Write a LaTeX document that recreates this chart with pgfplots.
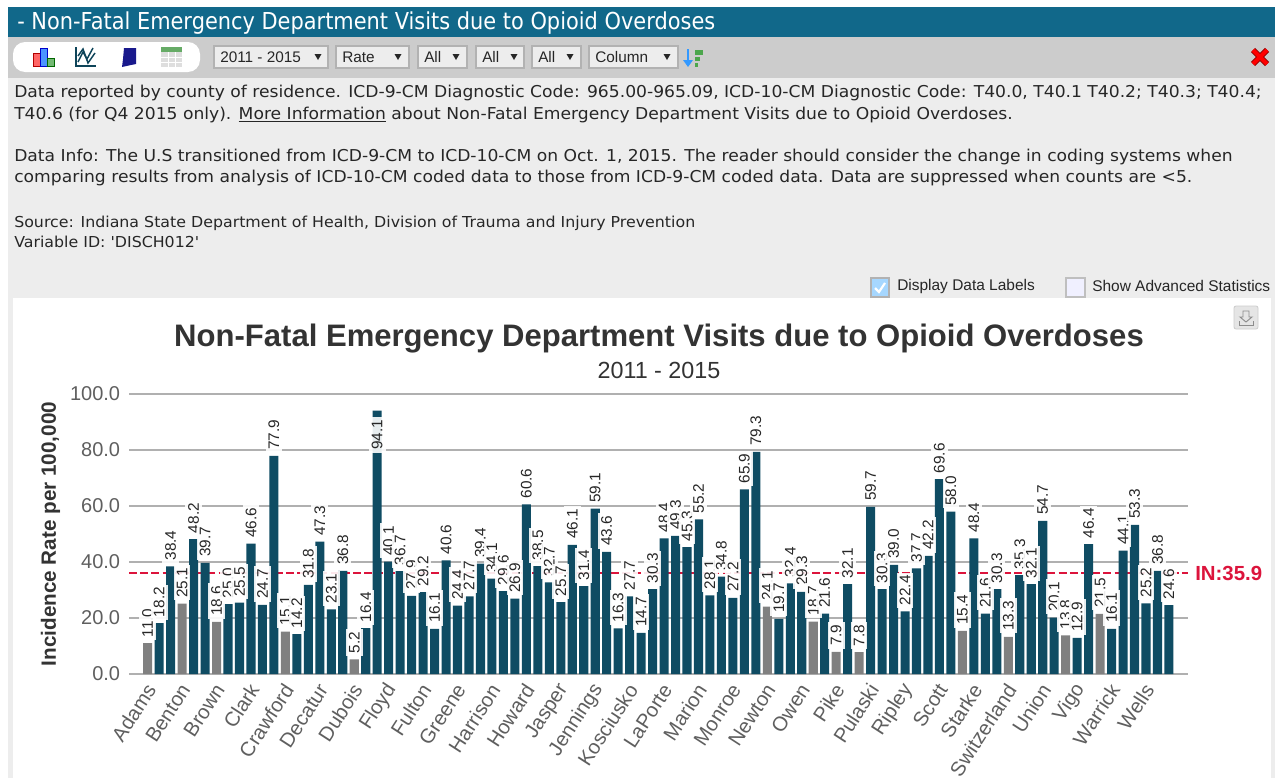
\documentclass[border=0pt]{standalone}
\usepackage{pgfplots}
\usepackage{pgfplotstable}
\usepackage{fontspec}
\pgfplotsset{compat=1.18}
\setmainfont{Liberation Sans}
\newfontfamily\dv[FakeStretch=0.896]{DejaVu Sans}
\newfontfamily\dvb[FakeStretch=1.05]{DejaVu Sans}
\newcommand{\fs}[1]{\fontsize{#1pt}{#1pt}\selectfont}
\definecolor{hdr}{HTML}{11688A}
\definecolor{barteal}{HTML}{0F4C63}
\definecolor{nodata}{HTML}{808080}
\definecolor{indred}{HTML}{DC143C}
\definecolor{ttl}{HTML}{333333}
\definecolor{tck}{HTML}{5F5F5F}
\definecolor{grd}{HTML}{B0B0B0}
\pgfplotstableread{
idx teal grey val pos
0 nan 11.0 11.0 11.0
1 18.2 nan 18.2 18.2
2 38.4 nan 38.4 38.4
3 nan 25.1 25.1 25.1
4 48.2 nan 48.2 48.2
5 39.7 nan 39.7 39.7
6 nan 18.6 18.6 18.6
7 25.0 nan 25.0 25.0
8 25.5 nan 25.5 25.5
9 46.6 nan 46.6 46.6
10 24.7 nan 24.7 24.7
11 77.9 nan 77.9 77.9
12 nan 15.1 15.1 15.1
13 14.2 nan 14.2 14.2
14 31.8 nan 31.8 31.8
15 47.3 nan 47.3 47.3
16 23.1 nan 23.1 23.1
17 36.8 nan 36.8 36.8
18 nan 5.2 5.2 5.2
19 16.4 nan 16.4 16.4
20 94.1 nan 94.1 77.9
21 40.1 nan 40.1 40.1
22 36.7 nan 36.7 36.7
23 27.9 nan 27.9 27.9
24 29.2 nan 29.2 29.2
25 16.1 nan 16.1 16.1
26 40.6 nan 40.6 40.6
27 24.4 nan 24.4 24.4
28 27.7 nan 27.7 27.7
29 39.4 nan 39.4 39.4
30 34.1 nan 34.1 34.1
31 29.6 nan 29.6 29.6
32 26.9 nan 26.9 26.9
33 60.6 nan 60.6 60.6
34 38.5 nan 38.5 38.5
35 32.7 nan 32.7 32.7
36 25.7 nan 25.7 25.7
37 46.1 nan 46.1 46.1
38 31.4 nan 31.4 31.4
39 59.1 nan 59.1 59.1
40 43.6 nan 43.6 43.6
41 16.3 nan 16.3 16.3
42 27.7 nan 27.7 27.7
43 14.7 nan 14.7 14.7
44 30.3 nan 30.3 30.3
45 48.4 nan 48.4 48.4
46 49.3 nan 49.3 49.3
47 45.3 nan 45.3 45.3
48 55.2 nan 55.2 55.2
49 28.1 nan 28.1 28.1
50 34.8 nan 34.8 34.8
51 27.2 nan 27.2 27.2
52 65.9 nan 65.9 65.9
53 79.3 nan 79.3 79.3
54 nan 24.1 24.1 24.1
55 19.7 nan 19.7 19.7
56 32.4 nan 32.4 32.4
57 29.3 nan 29.3 29.3
58 nan 18.7 18.7 18.7
59 21.6 nan 21.6 21.6
60 nan 7.9 7.9 7.9
61 32.1 nan 32.1 32.1
62 nan 7.8 7.8 7.8
63 59.7 nan 59.7 59.7
64 30.3 nan 30.3 30.3
65 39.0 nan 39.0 39.0
66 22.4 nan 22.4 22.4
67 37.7 nan 37.7 37.7
68 42.2 nan 42.2 42.2
69 69.6 nan 69.6 69.6
70 58.0 nan 58.0 58.0
71 nan 15.4 15.4 15.4
72 48.4 nan 48.4 48.4
73 21.6 nan 21.6 21.6
74 30.3 nan 30.3 30.3
75 nan 13.3 13.3 13.3
76 35.3 nan 35.3 35.3
77 32.1 nan 32.1 32.1
78 54.7 nan 54.7 54.7
79 20.1 nan 20.1 20.1
80 nan 13.8 13.8 13.8
81 12.9 nan 12.9 12.9
82 46.4 nan 46.4 46.4
83 nan 21.5 21.5 21.5
84 16.1 nan 16.1 16.1
85 44.1 nan 44.1 44.1
86 53.3 nan 53.3 53.3
87 25.2 nan 25.2 25.2
88 36.8 nan 36.8 36.8
89 24.6 nan 24.6 24.6
}\rates
\pgfplotstableread{
x y
-1.63 35.9
90.66 35.9
}\stateline
\begin{document}
\begin{tikzpicture}[x=0.75pt,y=-0.75pt]
\useasboundingbox (0,0) rectangle (1275,778);
\fill[white] (0,0) rectangle (1275,778);
% panels
\fill[hdr] (8,7) rectangle (1275,37);
\fill[black!20] (8,37) rectangle (1275,78);
\fill[black!7] (8,78) rectangle (1275,778);
\fill[white] (13,298) rectangle (1271,778);
\node[anchor=west,text=white,inner sep=0pt] at (17,23) {\dv\fs{17.5}- Non-Fatal Emergency Department Visits due to Opioid Overdoses};
% toolbar pill
\fill[white,rounded corners=9pt] (13,42) rectangle (200,72);
% bar icon
\fill[red!60,draw=red!70!black,line width=.4pt] (33,53) rectangle (40,66);
\fill[blue!60!cyan!70,draw=blue!80!black,line width=.4pt] (40,48) rectangle (47,66);
\fill[green!50!black!55,draw=green!40!black,line width=.4pt] (47,58) rectangle (54,66);
% line icon
\draw[barteal!90!black,line width=1pt] (76,47) -- (76,66) -- (96,66);
\draw[barteal!90!black,line width=1.1pt] (78,62) -- (83,52) -- (87,59) -- (93,48);
\draw[barteal!90!black,line width=1.1pt] (78,56) -- (83,49) -- (88,63) -- (95,53);
% indiana icon
\fill[blue!50!black!90] (124,48) -- (136,48) -- (136,64) -- (131,65) -- (122,67) -- (123,59) -- cycle;
% table icon
\fill[black!13] (161,47) rectangle (182,67);
\fill[green!45!black!60] (161,47) rectangle (182,52);
\draw[white,line width=.4pt] (168,52) -- (168,67) (175,52) -- (175,67) (161,57) -- (182,57) (161,62) -- (182,62);
% select boxes
\foreach \a/\b/\t/\ar in {214/328/{2011 - 2015}/318,336/409/{Rate}/398,418/467/{All}/456,476/524/{All}/514,532/581/{All}/570,589/678/{Column}/667}{
  \fill[black!7,draw=black!30,line width=.8pt] (\a,46) rectangle (\b,68);
  \node[anchor=west,inner sep=0pt,text=black!85] at ({\a+6},57) {\fs{11.5}\t};
  \fill[black!85] ({\ar-3.5},54) -- ({\ar+3.5},54) -- (\ar,60) -- cycle;
}
% sort icon
\draw[blue!50!cyan!80,line width=1.6pt] (688,49) -- (688,63);
\fill[blue!50!cyan!80] (683,60) -- (693,60) -- (688,67) -- cycle;
\fill[green!50!black!70] (695,50) rectangle (703,55);
\fill[green!50!black!70] (695,57) rectangle (700,61);
\fill[green!50!black!70] (695,63) rectangle (698,67);
% close icon
\draw[red!55!black,line width=4.4pt] (1253,50) -- (1267,64) (1267,50) -- (1253,64);
\draw[red,line width=3pt] (1253,50) -- (1267,64) (1267,50) -- (1253,64);
% info text
\begin{scope}[every node/.style={anchor=west,inner sep=0pt,text=black!85}]
\node at (14,93) {\dvb\fs{12.25}Data reported by county of residence. ICD-9-CM Diagnostic Code: 965.00-965.09, ICD-10-CM Diagnostic Code: T40.0, T40.1 T40.2; T40.3; T40.4;};
\node at (14,115) {\dvb\fs{12.25}T40.6 (for Q4 2015 only). \underline{More Information} about Non-Fatal Emergency Department Visits due to Opioid Overdoses.};
\node at (14,157) {\dvb\fs{12.25}Data Info: The U.S transitioned from ICD-9-CM to ICD-10-CM on Oct. 1, 2015. The reader should consider the change in coding systems when};
\node at (14,178) {\dvb\fs{12.25}comparing results from analysis of ICD-10-CM coded data to those from ICD-9-CM coded data. Data are suppressed when counts are <5.};
\node at (14,223) {\dvb\fs{11.3}Source: Indiana State Department of Health, Division of Trauma and Injury Prevention};
\node at (14,242) {\dvb\fs{11.3}Variable ID: 'DISCH012'};
\node at (897,286) {\fs{11.6}Display Data Labels};
\node at (1092,286) {\fs{11.6}Show Advanced Statistics};
\end{scope}
% checkboxes
\fill[blue!45!cyan!35,draw=black!30,line width=.8pt] (871,278) rectangle (889,297);
\draw[white,line width=1.6pt] (875,288) -- (879,292) -- (885,283);
\fill[blue!6,draw=black!25,line width=.8pt] (1066,278) rectangle (1085,297);
% download button
\fill[black!10,draw=black!20,rounded corners=1.5pt,line width=.6pt] (1234,306) rectangle (1258,329);
\draw[black!45,line width=.7pt] (1243,311) -- (1249,311) -- (1249,317) -- (1252,317) -- (1246,322) -- (1240,317) -- (1243,317) -- cycle;
\draw[black!45,line width=.7pt] (1239,321) -- (1239,325) -- (1253,325) -- (1253,321);
% titles
\node[text=ttl,inner sep=0pt] at (659,339) {\fs{23.3}\bfseries Non-Fatal Emergency Department Visits due to Opioid Overdoses};
\node[text=ttl,inner sep=0pt] at (659,370) {\fs{17.5}2011 - 2015};
\node[text=indred,anchor=west,inner sep=0pt] at (1195,573) {\fs{15.3}\bfseries IN:35.9};
\begin{axis}[
  at={(96.75pt,-505.5pt)},anchor=south west,
  scale only axis,width=794.25pt,height=210pt,
  xmin=-1.63,xmax=90.66,ymin=0,ymax=100,
  clip=false,
  axis x line*=bottom,axis y line*=left,
  y axis line style={draw=none},
  x axis line style={draw=grd,line width=1.1pt,-},
  ytick={0,20,40,60,80,100},
  major tick length=0pt,
  ymajorgrids,
  grid style={grd,line width=1pt},
  xtick={0,3,6,9,12,15,18,21,24,27,30,33,36,39,42,45,48,51,54,57,60,63,66,69,72,75,78,81,84,87},
  xticklabels={Adams,Benton,Brown,Clark,Crawford,Decatur,Dubois,Floyd,Fulton,Greene,Harrison,Howard,Jasper,Jennings,Kosciusko,LaPorte,Marion,Monroe,Newton,Owen,Pike,Pulaski,Ripley,Scott,Starke,Switzerland,Union,Vigo,Warrick,Wells},
  xticklabel style={xshift=2.5pt,yshift=-9pt,rotate=57,anchor=east,text=tck,font=\fs{15.2},inner sep=0pt},
  yticklabel style={text=tck,font=\fs{15},inner sep=0pt,xshift=-6.5pt},
  /pgf/number format/assume math mode=true,
  yticklabel={\pgfmathprintnumber[fixed,fixed zerofill,precision=1]{\tick}},
  ylabel={\fs{15.5}\bfseries Incidence Rate per 100,000},
  ylabel style={text=ttl,at={(axis description cs:0,0.5)},anchor=south,yshift=51.5pt,inner sep=0pt},
]
\addplot[color=indred,line width=1.5pt,dash pattern=on 6pt off 2.4pt,mark=none,forget plot] table[x=x,y=y] {\stateline};
\addplot[ybar,bar width=6.8pt,bar shift=0pt,fill=barteal,draw=none,forget plot] table[x=idx,y=teal] {\rates};
\addplot[ybar,bar width=6.8pt,bar shift=0pt,fill=nodata,draw=none,forget plot] table[x=idx,y=grey] {\rates};
\addplot[draw=none,mark=none,forget plot,point meta=explicit,
  nodes near coords={\pgfmathprintnumber[fixed,fixed zerofill,precision=1,assume math mode=true]{\pgfplotspointmeta}},
  every node near coord/.append style={yshift=2.3pt,rotate=90,anchor=west,fill=white,fill opacity=.9,text opacity=1,text=black!85,font=\fs{11.5},inner xsep=2pt,inner ysep=2.2pt}
] table[x=idx,y=pos,meta=val] {\rates};
\end{axis}
\end{tikzpicture}
\end{document}
